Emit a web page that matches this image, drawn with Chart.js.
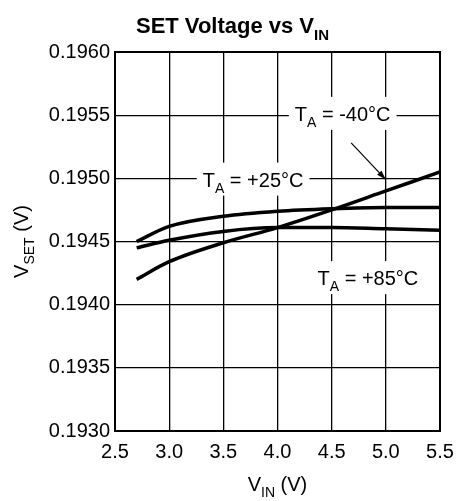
<!DOCTYPE html>
<html>
<head>
<meta charset="utf-8">
<script src="https://cdn.jsdelivr.net/npm/chart.js@4/dist/chart.umd.min.js"></script>
<style>
  html, body { margin: 0; padding: 0; background: #fff; }
  canvas { display: block; }
</style>
</head>
<body>
<canvas id="setChart" width="465" height="501"></canvas>
<script>
/* SET Voltage vs VIN */
const vin = [2.7, 3.0, 3.5, 4.0, 4.5, 5.0, 5.5];
const vsetMinus40 = [0.19420, 0.19434, 0.19449, 0.19461, 0.19475, 0.19490, 0.19505];
const vsetPlus25 = [0.19450, 0.19462, 0.19470, 0.19474, 0.19476, 0.19477, 0.19477];
const vsetPlus85 = [0.19445, 0.19451, 0.19458, 0.19461, 0.19461, 0.19460, 0.19459];
const xTicks = [2.5, 3.0, 3.5, 4.0, 4.5, 5.0, 5.5];
const yTicks = [0.1930, 0.1935, 0.1940, 0.1945, 0.1950, 0.1955, 0.1960];

const FONT = "'Liberation Sans', Arial, Helvetica, sans-serif";

// label callouts, placed in data units
const callouts = [
  { parts: [["T"], ["A", 1], [" = -40°C"]], x: 4.16, y: 0.19551 },
  { parts: [["T"], ["A", 1], [" = +25°C"]], x: 3.31, y: 0.19499 },
  { parts: [["T"], ["A", 1], [" = +85°C"]], x: 4.37, y: 0.19421 }
];
const arrow = { from: [4.68, 0.19528], to: [5.0, 0.19499] };

function toPts(ys) {
  return vin.map((x, i) => ({ x: x, y: ys[i] }));
}

// draw text with subscript pieces; returns width
function richText(ctx, parts, x, y, size, bold, measureOnly) {
  let w = 0;
  parts.forEach(p => {
    const sub = p[1];
    const fs = sub ? Math.round(size * 0.68) : size;
    ctx.font = (bold ? "bold " : "") + fs + "px " + FONT;
    if (!measureOnly) ctx.fillText(p[0], x + w, y + (sub ? size * 0.3 : 0));
    w += ctx.measureText(p[0]).width;
  });
  return w;
}

const decor = {
  id: "decor",
  beforeDatasetsDraw(chart) {
    const ctx = chart.ctx;
    const xs = chart.scales.x, ys = chart.scales.y;
    ctx.save();
    ctx.textBaseline = "alphabetic";
    ctx.textAlign = "left";
    callouts.forEach(c => {
      const px = xs.getPixelForValue(c.x);
      const py = ys.getPixelForValue(c.y);
      const w = richText(ctx, c.parts, 0, 0, 20, false, true);
      ctx.fillStyle = "#fff";
      ctx.fillRect(px - 6, py - 17, w + 12, 33);
      ctx.fillStyle = "#000";
      richText(ctx, c.parts, px, py + 7, 20, false, false);
    });
    ctx.restore();
  },
  afterDatasetsDraw(chart) {
    const ctx = chart.ctx;
    const a = chart.chartArea;
    const xs = chart.scales.x, ys = chart.scales.y;
    ctx.save();
    // arrow
    const x1 = xs.getPixelForValue(arrow.from[0]), y1 = ys.getPixelForValue(arrow.from[1]);
    const x2 = xs.getPixelForValue(arrow.to[0]), y2 = ys.getPixelForValue(arrow.to[1]);
    ctx.strokeStyle = "#000";
    ctx.lineWidth = 1.2;
    ctx.beginPath();
    ctx.moveTo(x1, y1);
    ctx.lineTo(x2, y2);
    ctx.stroke();
    const ang = Math.atan2(y2 - y1, x2 - x1);
    ctx.fillStyle = "#000";
    ctx.beginPath();
    ctx.moveTo(x2, y2);
    ctx.lineTo(x2 - 10 * Math.cos(ang - 0.3), y2 - 10 * Math.sin(ang - 0.3));
    ctx.lineTo(x2 - 10 * Math.cos(ang + 0.3), y2 - 10 * Math.sin(ang + 0.3));
    ctx.closePath();
    ctx.fill();
    // frame
    ctx.lineWidth = 2;
    ctx.strokeRect(a.left, a.top, a.right - a.left, a.bottom - a.top);
    // title
    ctx.fillStyle = "#000";
    const tParts = [["SET Voltage vs V"], ["IN", 1]];
    const tw = richText(ctx, tParts, 0, 0, 22, true, true);
    richText(ctx, tParts, chart.width / 2 - tw / 2, 33, 22, true, false);
    // x axis title
    const xParts = [["V"], ["IN", 1], [" (V)"]];
    const xw = richText(ctx, xParts, 0, 0, 20, false, true);
    richText(ctx, xParts, (a.left + a.right) / 2 - xw / 2, 491, 20, false, false);
    // y axis title
    const yParts = [["V"], ["SET", 1], [" (V)"]];
    const yw = richText(ctx, yParts, 0, 0, 20, false, true);
    ctx.translate(28, (a.top + a.bottom) / 2);
    ctx.rotate(-Math.PI / 2);
    richText(ctx, yParts, -yw / 2, 0, 20, false, false);
    ctx.restore();
  }
};

const lineStyle = {
  borderColor: "#000",
  borderWidth: 3.5,
  pointRadius: 0,
  fill: false,
  cubicInterpolationMode: "monotone"
};

new Chart(document.getElementById("setChart"), {
  type: "line",
  data: {
    datasets: [
      Object.assign({ label: "TA = -40°C", data: toPts(vsetMinus40) }, lineStyle),
      Object.assign({ label: "TA = +25°C", data: toPts(vsetPlus25) }, lineStyle),
      Object.assign({ label: "TA = +85°C", data: toPts(vsetPlus85) }, lineStyle)
    ]
  },
  options: {
    responsive: false,
    animation: false,
    devicePixelRatio: 1,
    layout: { padding: { top: 52, right: 25, left: 0, bottom: 0 } },
    plugins: {
      legend: { display: false },
      tooltip: { enabled: false }
    },
    scales: {
      x: {
        type: "linear",
        min: 2.5,
        max: 5.5,
        afterBuildTicks: s => { s.ticks = xTicks.map(v => ({ value: v })); },
        afterFit: s => { s.height = 70; },
        ticks: {
          color: "#000",
          font: { family: FONT, size: 20 },
          padding: 9,
          maxRotation: 0,
          callback: v => v.toFixed(1)
        },
        grid: { color: "#000", lineWidth: 1.3, drawTicks: false },
        border: { color: "#000", width: 2 }
      },
      y: {
        min: 0.1930,
        max: 0.1960,
        afterBuildTicks: s => { s.ticks = yTicks.map(v => ({ value: v })); },
        afterFit: s => { s.width = 115; },
        ticks: {
          color: "#000",
          font: { family: FONT, size: 20 },
          padding: 5,
          callback: v => v.toFixed(4)
        },
        grid: { color: "#000", lineWidth: 1.3, drawTicks: false },
        border: { color: "#000", width: 2 }
      }
    }
  },
  plugins: [decor]
});
</script>
</body>
</html>
